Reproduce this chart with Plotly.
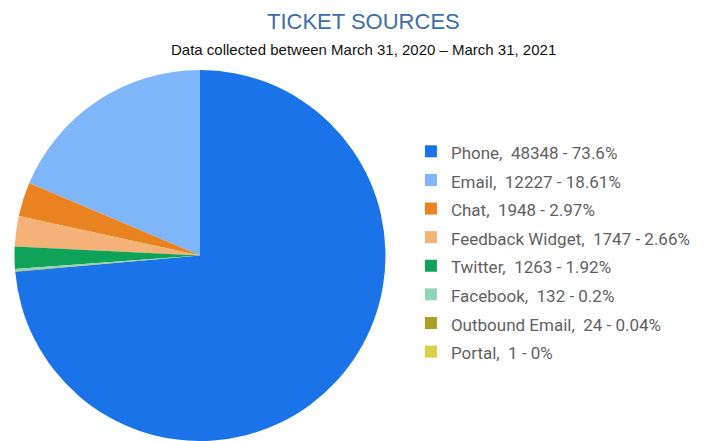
import plotly.graph_objects as go

categories = ["Phone", "Email", "Chat", "Feedback Widget", "Twitter", "Facebook", "Outbound Email", "Portal"]
values = [48348, 12227, 1948, 1747, 1263, 132, 24, 1]
percents = ["73.6", "18.61", "2.97", "2.66", "1.92", "0.2", "0.04", "0"]
colors = ["#1a73e8", "#7fb6f9", "#e8831f", "#f5b277", "#0fa35a", "#8ed6b6", "#aa9e23", "#dcd146"]

NB = "\u00a0"
labels = [f"<span style='font-size:17px'>{c},{NB}{NB}{v}{NB}-{NB}{p}%</span>"
          for c, v, p in zip(categories, values, percents)]

W, H = 726, 441
TOP = 70

fig = go.Figure(go.Pie(
    labels=labels,
    values=values,
    sort=False,
    direction="counterclockwise",
    rotation=0,
    marker=dict(colors=colors, line=dict(width=0)),
    textinfo="none",
    hoverinfo="skip",
    domain=dict(x=[14 / W, 386 / W], y=[0, 1]),
))

def py(ypix):
    return (H - ypix) / (H - TOP)

fig.update_layout(
    width=W, height=H,
    margin=dict(l=0, r=0, t=TOP, b=0),
    paper_bgcolor="white",
    plot_bgcolor="white",
    showlegend=True,
    legend=dict(
        x=0.566, y=py(132), xanchor="left", yanchor="top",
        font=dict(family="Roboto", size=19.7, color="#5f5f5f"),
        bgcolor="rgba(0,0,0,0)",
    ),
)
fig.add_annotation(text="TICKET SOURCES", x=0.5, y=py(21), xref="paper", yref="paper",
                   showarrow=False, yanchor="middle",
                   font=dict(family="Liberation Sans, Arial", size=22, color="#3b6ea8"))
fig.add_annotation(text="Data collected between March 31, 2020 \u2013 March 31, 2021", x=0.5, y=py(49),
                   xref="paper", yref="paper", showarrow=False, yanchor="middle",
                   font=dict(family="Liberation Sans, Arial", size=15, color="#111111"))

fig.write_html("out.html")
